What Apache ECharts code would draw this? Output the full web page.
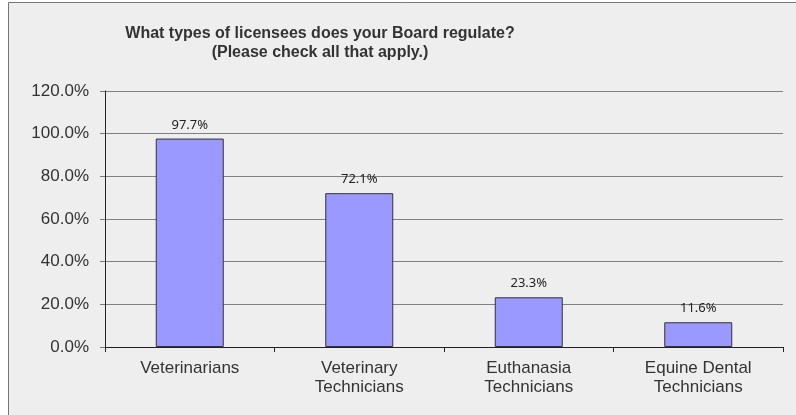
<!DOCTYPE html>
<html>
<head>
<meta charset="utf-8">
<script src="https://cdn.jsdelivr.net/npm/echarts@6/dist/echarts.min.js"></script>
<style>
  html, body { margin: 0; padding: 0; background: #fff; }
  #chart { width: 796px; height: 415px; }
</style>
</head>
<body>
<div id="chart"></div>
<script>
const categories = ['Veterinarians', 'Veterinary\nTechnicians', 'Euthanasia\nTechnicians', 'Equine Dental\nTechnicians'];
const percentages = [97.7, 72.1, 23.3, 11.6];
const yTicks = { min: 0, max: 120, interval: 20 };

const myChart = echarts.init(document.getElementById('chart'));

const option = {
  backgroundColor: '#ffffff',
  animation: false,
  graphic: [
    {
      type: 'rect',
      z: -10,
      shape: { x: 8.5, y: 2.5, width: 820, height: 440 },
      style: { fill: '#eeeeee', stroke: '#777777', lineWidth: 1 }
    }
  ],
  title: {
    text: 'What types of licensees does your Board regulate?\n(Please check all that apply.)',
    left: 315,
    top: 19,
    textAlign: 'center',
    textStyle: {
      fontFamily: 'Liberation Sans',
      fontSize: 16,
      fontWeight: 'bold',
      color: '#333333',
      lineHeight: 19
    }
  },
  grid: { left: 105, right: 13, top: 91, bottom: 68 },
  xAxis: {
    type: 'category',
    data: categories,
    axisLine: { lineStyle: { color: '#222222', width: 1 } },
    axisTick: { show: true, length: 5, lineStyle: { color: '#222222' } },
    axisLabel: {
      interval: 0,
      margin: 12,
      fontFamily: 'Liberation Sans',
      fontSize: 17,
      lineHeight: 19,
      color: '#333333'
    }
  },
  yAxis: {
    type: 'value',
    min: yTicks.min,
    max: yTicks.max,
    interval: yTicks.interval,
    axisLine: { show: true, lineStyle: { color: '#222222', width: 1 } },
    axisTick: { show: true, length: 5, lineStyle: { color: '#777777' } },
    splitLine: { show: true, lineStyle: { color: '#808080', width: 1 } },
    axisLabel: {
      margin: 16,
      fontFamily: 'Liberation Sans',
      fontSize: 17,
      color: '#333333',
      formatter: v => v.toFixed(1) + '%'
    }
  },
  series: [
    {
      type: 'bar',
      data: percentages,
      barWidth: 68,
      itemStyle: { color: '#9999ff', borderColor: '#333333', borderWidth: 1 },
      label: {
        show: true,
        position: 'top',
        distance: 7,
        fontFamily: 'Noto Sans',
        fontSize: 13,
        color: '#222222',
        formatter: p => p.value.toFixed(1) + '%'
      }
    }
  ]
};

myChart.setOption(option);
window.addEventListener('resize', () => myChart.resize());
</script>
</body>
</html>
